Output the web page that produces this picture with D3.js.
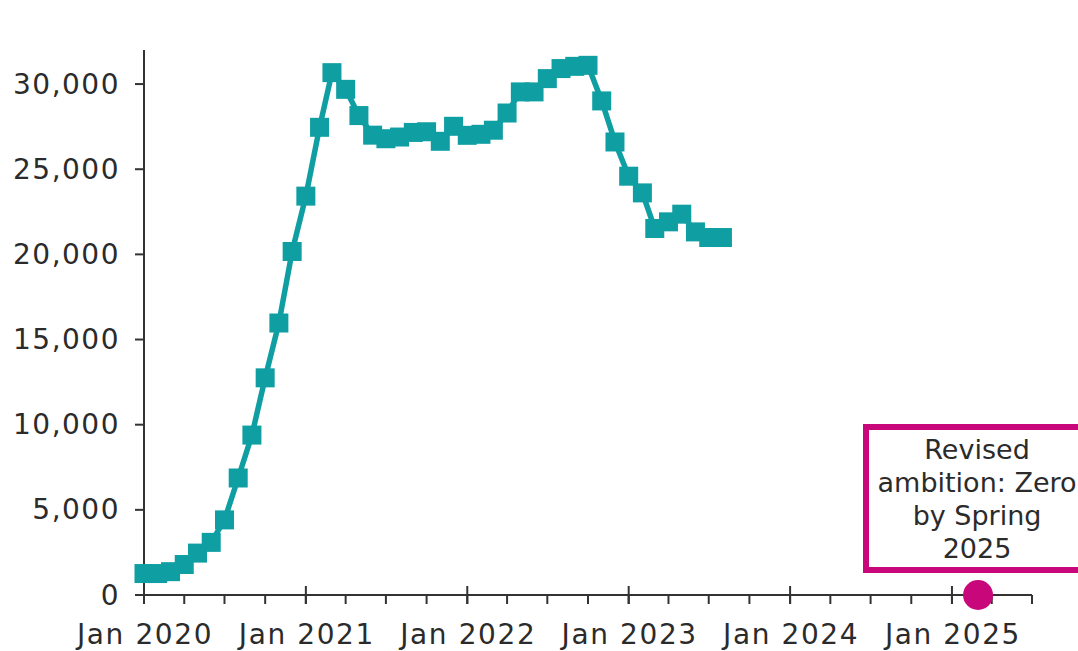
<!DOCTYPE html>
<html>
<head>
<meta charset="utf-8">
<script src="https://cdn.jsdelivr.net/npm/d3@7"></script>
<style>
  html, body { margin: 0; padding: 0; background: #fff; }
  svg { display: block; }
  text { font-family: "DejaVu Sans", sans-serif; fill: #2b2b2b; }
</style>
</head>
<body>
<svg id="chart" width="1078" height="651"></svg>
<script>
// ---- Data ----
const months = [
  "2020-01","2020-02","2020-03","2020-04","2020-05","2020-06","2020-07","2020-08","2020-09","2020-10","2020-11","2020-12",
  "2021-01","2021-02","2021-03","2021-04","2021-05","2021-06","2021-07","2021-08","2021-09","2021-10","2021-11","2021-12",
  "2022-01","2022-02","2022-03","2022-04","2022-05","2022-06","2022-07","2022-08","2022-09","2022-10","2022-11","2022-12",
  "2023-01","2023-02","2023-03","2023-04","2023-05","2023-06","2023-07","2023-08"
];
const values = [
  1260, 1260, 1370, 1790, 2460, 3090, 4410, 6870, 9390, 12750, 15970, 20170,
  23420, 27460, 30670, 29690, 28150, 27000, 26790, 26890, 27160, 27200, 26640, 27520,
  26990, 27050, 27290, 28300, 29540, 29540, 30320, 30910, 31040, 31100, 29010, 26600,
  24590, 23610, 21520, 21910, 22360, 21320, 20990, 20990
];
const yTicks = [0, 5000, 10000, 15000, 20000, 25000, 30000];
const xTickYears = ["2020-01","2021-01","2022-01","2023-01","2024-01","2025-01"];
const xDomain = ["2020-01", "2025-07"];
const target = { date: "2025-03", value: 0 };
const annotationLines = ["Revised", "ambition: Zero", "by Spring", "2025"];

// ---- Setup ----
const parse = d3.timeParse("%Y-%m");
const svg = d3.select("#chart");
const teal = "#0f9fa3";
const magenta = "#c8077a";
const axisColor = "#333";

const x = d3.scaleTime().domain(xDomain.map(parse)).range([144, 1032]);
const y = d3.scaleLinear().domain([0, 32000]).range([595, 50]);
const fmtY = d3.format(",");
const fmtX = d3.timeFormat("Jan %Y");

const data = months.map((m, i) => ({ date: parse(m), value: values[i] }));

// ---- Y axis ----
const gy = svg.append("g");
gy.append("line")
  .attr("x1", x.range()[0]).attr("x2", x.range()[0])
  .attr("y1", y.range()[1]).attr("y2", y(0) + 9)
  .attr("stroke", axisColor).attr("stroke-width", 2);
gy.selectAll("line.tick").data(yTicks.filter(d => d > 0)).join("line")
  .attr("class", "tick")
  .attr("x1", x.range()[0] - 9).attr("x2", x.range()[0])
  .attr("y1", d => y(d)).attr("y2", d => y(d))
  .attr("stroke", axisColor).attr("stroke-width", 2);
gy.selectAll("text").data(yTicks).join("text")
  .attr("x", 120).attr("y", d => y(d))
  .attr("text-anchor", "end").attr("dominant-baseline", "central")
  .attr("font-size", 28).attr("letter-spacing", 1.5)
  .text(d => fmtY(d));

// ---- X axis ----
const gx = svg.append("g");
gx.append("line")
  .attr("x1", x.range()[0] - 9).attr("x2", x.range()[1])
  .attr("y1", y(0)).attr("y2", y(0))
  .attr("stroke", axisColor).attr("stroke-width", 2);
const minorTicks = d3.timeMonth.every(3).range(x.domain()[0], d3.timeDay.offset(x.domain()[1], 1));
gx.selectAll("line.minor").data(minorTicks).join("line")
  .attr("class", "minor")
  .attr("x1", d => x(d)).attr("x2", d => x(d))
  .attr("y1", y(0)).attr("y2", y(0) + 9)
  .attr("stroke", axisColor).attr("stroke-width", 2);
gx.selectAll("line.major").data(xTickYears.map(parse)).join("line")
  .attr("class", "major")
  .attr("x1", d => x(d)).attr("x2", d => x(d))
  .attr("y1", y(0) - 9).attr("y2", y(0) + 9)
  .attr("stroke", axisColor).attr("stroke-width", 2);
gx.selectAll("text").data(xTickYears.map(parse)).join("text")
  .attr("x", d => x(d) + 1).attr("y", 644)
  .attr("text-anchor", "middle")
  .attr("font-size", 28).attr("letter-spacing", 1.6)
  .text(d => fmtX(d));

// ---- Series ----
const line = d3.line().x(d => x(d.date)).y(d => y(d.value));
svg.append("path").datum(data)
  .attr("d", line)
  .attr("fill", "none").attr("stroke", teal)
  .attr("stroke-width", 5.5).attr("stroke-linejoin", "round");
const ms = 19;
svg.selectAll("rect.marker").data(data).join("rect")
  .attr("class", "marker")
  .attr("x", d => x(d.date) - ms / 2).attr("y", d => y(d.value) - ms / 2)
  .attr("width", ms).attr("height", ms)
  .attr("fill", teal);

// ---- Target annotation ----
const tx = x(parse(target.date));
svg.append("rect")
  .attr("x", 866).attr("y", 427)
  .attr("width", 260).attr("height", 143)
  .attr("fill", "#fff").attr("stroke", magenta).attr("stroke-width", 6);
svg.append("g").selectAll("text").data(annotationLines).join("text")
  .attr("x", tx - 1).attr("y", (d, i) => 459 + i * 33)
  .attr("text-anchor", "middle")
  .attr("font-size", 27)
  .text(d => d);
svg.append("circle")
  .attr("cx", tx).attr("cy", y(target.value))
  .attr("r", 15).attr("fill", magenta);
</script>
</body>
</html>
